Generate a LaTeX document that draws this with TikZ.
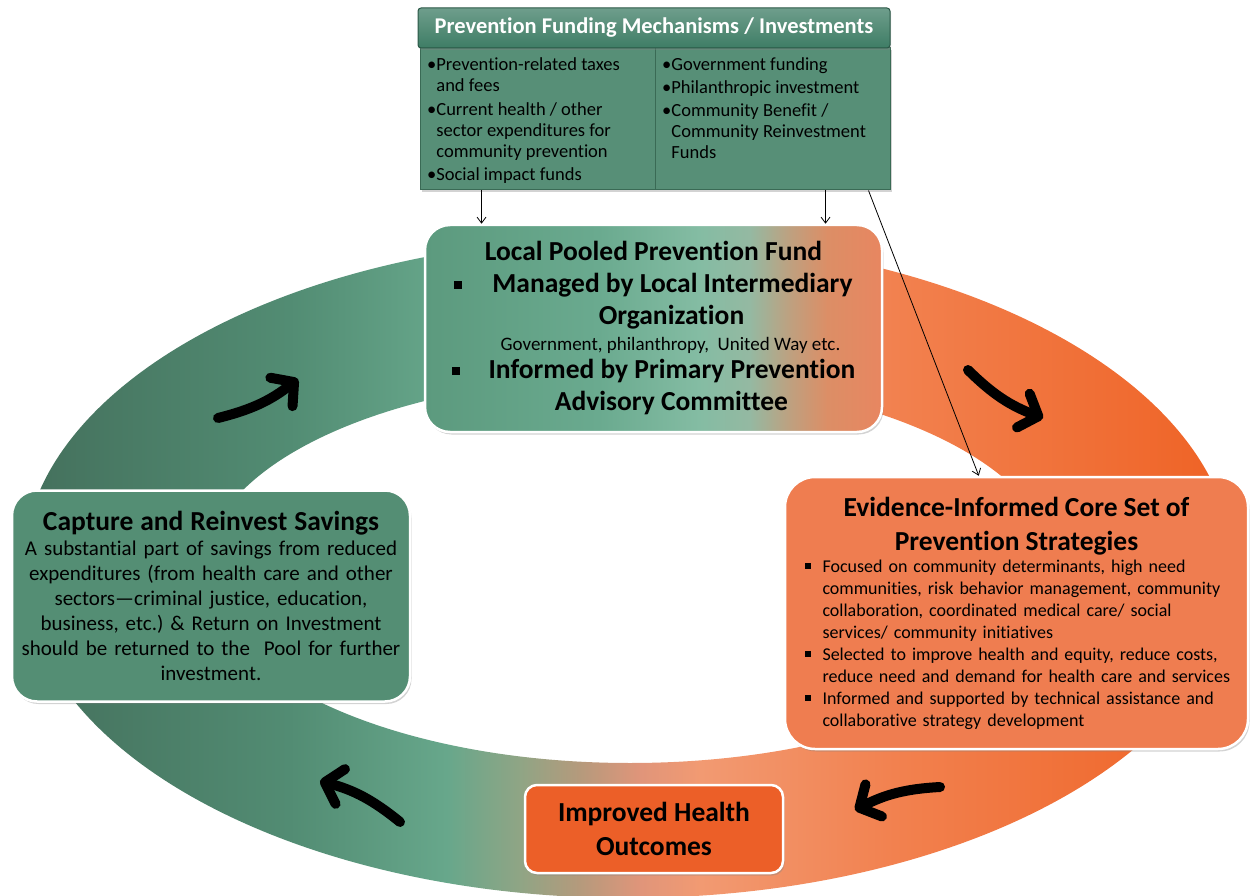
\documentclass[tikz,border=0pt]{standalone}
\usepackage{fontspec}
\setmainfont{Carlito}[Ligatures={NoCommon}]
\usetikzlibrary{arrows.meta, shadows}

\definecolor{hdrgreen}{HTML}{3E7D65}
\definecolor{cellgreen}{HTML}{578F77}
\definecolor{cellline}{HTML}{3A6A55}
\definecolor{savegreen}{HTML}{548E74}
\definecolor{stratorange}{HTML}{EF7D50}
\definecolor{outorange}{HTML}{EC5F28}
\definecolor{ringA}{HTML}{44705C}
\definecolor{ringB}{HTML}{528C73}
\definecolor{ringC}{HTML}{67A78B}
\definecolor{ringD}{HTML}{8FA585}
\definecolor{ringE}{HTML}{B59A7C}
\definecolor{ringF}{HTML}{E0957A}
\definecolor{ringG}{HTML}{F29A72}
\definecolor{ringH}{HTML}{F2814F}
\definecolor{ringI}{HTML}{EF6427}
\definecolor{poolA}{HTML}{5C9A7E}
\definecolor{poolB}{HTML}{6AAA8F}
\definecolor{poolC}{HTML}{84BCA3}
\definecolor{poolD}{HTML}{94B9A2}
\definecolor{poolE}{HTML}{BFA07F}
\definecolor{poolF}{HTML}{DC8E66}
\definecolor{poolG}{HTML}{E88660}

\pgfdeclarehorizontalshading{ringshade}{100bp}{color(0bp)=(ringA); color(25bp)=(ringA); color(36bp)=(ringB); color(42.5bp)=(ringC); color(45.5bp)=(ringD); color(48bp)=(ringE); color(50.5bp)=(ringF); color(53bp)=(ringG); color(61bp)=(ringH); color(74bp)=(ringI); color(100bp)=(ringI)}
\pgfdeclarehorizontalshading{poolshade}{100bp}{color(0bp)=(poolA); color(25bp)=(poolA); color(44bp)=(poolB); color(55bp)=(poolC); color(60.5bp)=(poolD); color(65bp)=(poolE); color(69bp)=(poolF); color(75bp)=(poolG); color(100bp)=(poolG)}

\newcommand{\sqb}{\raisebox{4pt}{\rule{8pt}{8pt}}}
\newcommand{\sqitem}{\par\noindent\makebox[30pt][l]{\hspace{12pt}\raisebox{3pt}{\rule{6pt}{6pt}}}}
\newcommand{\sqgap}{\hspace*{30pt}}

\tikzset{
  panel/.style={rounded corners=25pt, draw=white, line width=2.5pt, inner xsep=4pt,
    drop shadow={shadow xshift=1.5pt, shadow yshift=-2.5pt, opacity=0.35}},
  cell/.style={fill=cellgreen, draw=cellline, line width=1pt, minimum width=235pt, minimum height=142pt,
    drop shadow={shadow xshift=1.5pt, shadow yshift=-2pt, opacity=0.35}},
  celltext/.style={anchor=north west, align=left, inner sep=0pt, font=\fontsize{18.5}{21}\selectfont},
  fatarrow/.style={line width=10pt, line cap=round, -{Straight Barb[length=16pt, width=36pt, round]}},
  feed/.style={->, line width=0.8pt, >={Straight Barb[length=6pt, width=9pt]}}
}

\begin{document}
\frenchspacing
\begin{tikzpicture}[>=latex, x=1pt, y=-1pt]
\useasboundingbox (0,0) rectangle (1253,896);

\shade[shading=ringshade, even odd rule] (628,568) ellipse [x radius=605, y radius=330] (630,570) ellipse [x radius=425, y radius=193]; %ring

\draw[fatarrow] (218,418) to[bend right=12] (298,379); %up left
\draw[fatarrow] (968,370) to[bend right=12] (1043,418); %up right
\draw[fatarrow] (940,787) to[bend right=12] (855,810); %down right
\draw[fatarrow] (400,822) to[bend right=12] (320,781); %down left

\node[cell] (taxes) at (537.5,119) {};
\node[cell] (govt) at (772.5,119) {};
\node[top color=hdrgreen!75!white, bottom color=hdrgreen, draw=hdrgreen!70!black, line width=1pt, rounded corners=3pt, minimum width=472pt, minimum height=40pt, text=white, font=\bfseries\fontsize{22.5}{26}\selectfont, drop shadow={shadow xshift=1pt, shadow yshift=-2pt, opacity=0.35}] (funding) at (654,28) {Prevention Funding Mechanisms / Investments};

\node[celltext] (taxeslist) at (427,57) {\textbullet Prevention-related taxes\\ \phantom{\textbullet}and fees\\[3pt] \textbullet Current health / other\\ \phantom{\textbullet}sector expenditures for\\ \phantom{\textbullet}community prevention\\[2pt] \textbullet Social impact funds};
\node[celltext] (govtlist) at (662,57) {\textbullet Government funding\\[2pt] \textbullet Philanthropic investment\\[2pt] \textbullet Community Benefit /\\ \phantom{\textbullet}Community Reinvestment\\ \phantom{\textbullet}Funds};

\node[panel, shading=poolshade, minimum width=457pt, minimum height=207pt, align=center, font=\bfseries\fontsize{27.5}{32}\selectfont] (pool) at (653.5,328.5) {Local Pooled Prevention Fund\\ \sqb\hspace{30pt}Managed by Local Intermediary\\ \hspace*{36pt}Organization\\[-6pt] {\mdseries\fontsize{19}{22}\selectfont\hspace*{34pt}Government, philanthropy,\ \ United Way etc.}\\[-4pt] \sqb\hspace{29pt}Informed by Primary Prevention\\ \hspace*{36pt}Advisory Committee};

\node[panel, fill=stratorange, rounded corners=30pt, minimum width=463pt, minimum height=272pt, text width=448pt, align=left, font=\fontsize{18}{22}\selectfont] (strat) at (1016.5,613) {{\centering\bfseries\fontsize{27.5}{34}\selectfont Evidence-Informed Core Set of\\ Prevention Strategies\par}
\sqitem Focused on community determinants, high need\\ \sqgap communities, risk behavior management, community\\ \sqgap collaboration, coordinated medical care/ social\\ \sqgap services/ community initiatives
\sqitem Selected to improve health and equity, reduce costs,\\ \sqgap reduce need and demand for health care and services
\sqitem Informed and supported by technical assistance and\\ \sqgap collaborative strategy development\par};

\node[panel, fill=savegreen, minimum width=398pt, minimum height=211pt, text width=390pt, align=center, font=\fontsize{21}{25}\selectfont] (savings) at (211,596) {{\bfseries\fontsize{27.5}{32}\selectfont Capture and Reinvest Savings\par}
A substantial part of savings from reduced\\ expenditures (from health care and other\\ sectors---criminal justice, education,\\ business, etc.) \& Return on Investment\\ should be returned to the\ \ Pool for further\\ investment.\par};

\node[panel, fill=outorange, rounded corners=12pt, minimum width=258pt, minimum height=88pt, align=center, font=\bfseries\fontsize{27.5}{34}\selectfont] (outcome) at (654,829) {Improved Health\\ Outcomes};

\coordinate (taxesout) at ([xshift=62pt]taxes.south west);
\coordinate (govtout) at ([xshift=-65pt]govt.south east);
\coordinate (govtdiag) at ([xshift=-22pt]govt.south east);
\coordinate (stratin) at ([xshift=195pt]strat.north west);
\draw[feed] (taxesout) -- (taxesout |- pool.north);
\draw[feed] (govtout) -- (govtout |- pool.north);
\draw[feed] (govtdiag) -- (stratin);

\end{tikzpicture}
\end{document}
